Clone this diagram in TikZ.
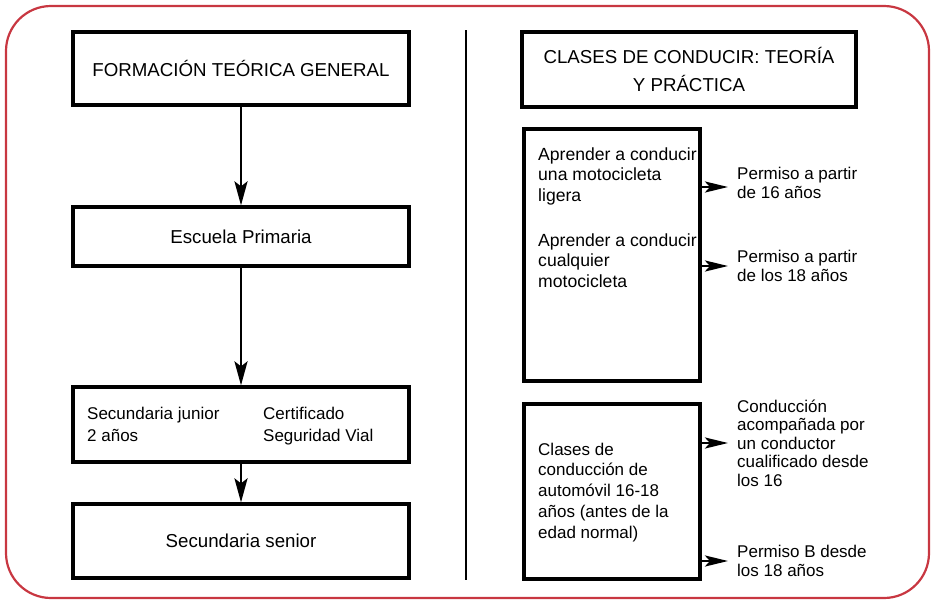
\documentclass[tikz,border=0pt]{standalone}
\usepackage{fontspec}
\setmainfont{Liberation Sans}
\usetikzlibrary{arrows.meta}
\definecolor{borderred}{RGB}{200,55,65}

\begin{document}
\begin{tikzpicture}
		[x=1pt, y=-1pt,
		every node/.style={font=\fontsize{17}{20}\selectfont},
		box/.style={draw, line width=3.2pt, inner sep=0pt},
		title/.style={font=\fontsize{18.7}{28}\selectfont},
		txt/.style={align=left, inner sep=0pt, anchor=base west},
		lbl/.style={align=left, inner xsep=9pt, inner ysep=0pt, anchor=west,
			font=\fontsize{17}{18.5}\selectfont},
		flow/.style={line width=2.8pt, -{Stealth[length=24pt,width=13pt,inset=5pt]}},
		side/.style={line width=2.8pt, -{Stealth[length=23pt,width=11pt,inset=5pt]}}]
		\useasboundingbox (0,0) rectangle (931,600);
		\draw [borderred, line width=2.2pt, rounded corners=45pt] (6,6) rectangle (929,598);
		% left column
		\node (theory) [box, title, minimum width=336pt, minimum height=73pt] at (241,68.5) {FORMACIÓN TEÓRICA GENERAL};
		\node (primary) [box, title, minimum width=336pt, minimum height=59pt] at (241,236.5) {Escuela Primaria};
		\node (junior) [box, minimum width=336pt, minimum height=75pt] at (241,424.5) {};
		\node (juniortxt) [txt, font=\fontsize{17}{22}\selectfont] at (87,441) {Secundaria junior\\2 años};
		\node (cert) [txt, font=\fontsize{17}{22}\selectfont] at (263,441) {Certificado\\Seguridad Vial};
		\node (senior) [box, title, minimum width=336pt, minimum height=74pt] at (241,541) {Secundaria senior};
		\draw [flow] (theory) -- (primary);
		\draw [flow] (primary) -- (junior);
		\draw [flow] (junior) -- (senior);
		% divider
		\coordinate (divtop) at (466,30);
		\coordinate (divbot) at (466,580);
		\draw [line width=2.2pt] (divtop) -- (divbot);
		% right column
		\node (practice) [box, title, minimum width=334pt, minimum height=75pt, align=center] at (689,69.5) {CLASES DE CONDUCIR: TEORÍA\\Y PRÁCTICA};
		\node (moto) [box, minimum width=176pt, minimum height=252pt] at (612,255) {};
		\node (lighttxt) [txt, font=\fontsize{17.6}{20.5}\selectfont] at (538,201) {Aprender a conducir\\una motocicleta\\ligera};
		\node (anytxt) [txt, font=\fontsize{17.6}{20.5}\selectfont] at (538,287) {Aprender a conducir\\cualquier\\motocicleta};
		\node (car) [box, minimum width=176pt, minimum height=175pt] at (612,491.5) {};
		\node (cartxt) [txt, font=\fontsize{17}{20.75}\selectfont] at (538,538) {Clases de\\conducción de\\automóvil 16-18\\años (antes de la\\edad normal)};
		\node (perm16) [lbl] at (728,183) {Permiso a partir\\de 16 años};
		\node (perm18) [lbl] at (728,266) {Permiso a partir\\de los 18 años};
		\node (accomp) [lbl] at (728,443) {Conducción\\acompañada por\\un conductor\\cualificado desde\\los 16};
		\node (permB) [lbl] at (728,561) {Permiso B desde\\los 18 años};
		\draw [side] ([yshift=-4pt]perm16.west -| moto.east) -- ([yshift=-4pt]perm16.west);
		\draw [side] (moto.east |- perm18.west) -- (perm18.west);
		\draw [side] (car.east |- accomp.west) -- (accomp.west);
		\draw [side] (car.east |- permB.west) -- (permB.west);
	\end{tikzpicture}
\end{document}
